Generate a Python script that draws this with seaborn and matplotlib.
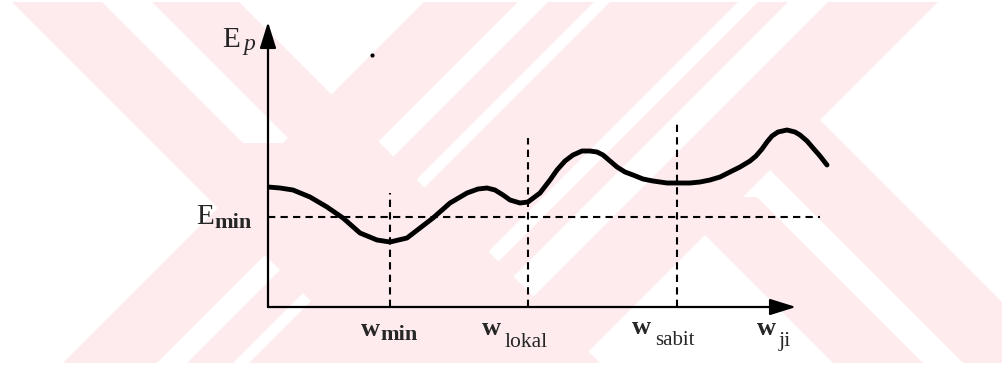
import matplotlib
matplotlib.use("Agg")
import matplotlib.pyplot as plt
import seaborn as sns
from matplotlib.patches import Polygon

# curve (x to the right of the E axis, y above the w axis, in px)
curve_x = [0, 12, 25, 42, 59, 75, 92, 109, 122, 139, 152, 165, 182, 199, 210, 219, 227,
           235, 242, 252, 260, 272, 282, 289, 297, 305, 314, 322, 329, 335, 342, 349, 357,
           365, 375, 385, 399, 412, 422, 432, 442, 452, 462, 472, 482, 488, 494, 499, 504,
           510, 519, 527, 532, 539, 545, 552, 559]
curve_y = [120, 119, 117, 110, 100, 89, 74, 67, 65, 69, 79, 89, 104, 114, 118, 119, 117,
           112, 107, 104, 105, 114, 127, 137, 146, 152, 156, 156, 155, 152, 146, 140, 135,
           132, 128, 126, 124, 124, 124, 125, 127, 130, 135, 140, 146, 151, 158, 165, 171,
           175, 177, 175, 172, 166, 159, 151, 142]

emin_level = 90.5
emin_end = 552
w_pos = [122, 260, 409]
w_top = [114, 169, 187]
sub_labels = ['min', 'lokal', 'sabit', 'ji']

W, H = 1003, 368
sns.set_style('white')
plt.rcParams['font.family'] = ['Liberation Serif', 'DejaVu Serif']

fig = plt.figure(figsize=(W / 100, H / 100), dpi=100)

# faint pink watermark in the background
pink = '#fdebee'
def band(kind, a, b, y0, y1):
    if kind == 'back':   # "\" direction, x - y in [a, b]
        pts = [(a + y0, y0), (b + y0, y0), (b + y1, y1), (a + y1, y1)]
    else:                # "/" direction, x + y in [a, b]
        pts = [(a - y0, y0), (b - y0, y0), (b - y1, y1), (a - y1, y1)]
    return Polygon([(px / W, 1 - py / H) for px, py in pts], closed=True,
                   transform=fig.transFigure, facecolor=pink, edgecolor='none', zorder=0)

top, bot = 2, 363
for kind, a, b, y0, y1 in [('back', 10, 100, top, bot), ('back', 150, 237, top, bot),
                           ('back', 100, 150, 143, bot),
                           ('fwd', 426, 520, top, bot), ('fwd', 550, 596, top, bot),
                           ('fwd', 612, 740, top, bot), ('fwd', 760, 790, top, bot),
                           ('fwd', 830, 940, top, bot),
                           ('back', 470, 560, 197, bot), ('back', 600, 700, 120, bot)]:
    fig.add_artist(band(kind, a, b, y0, y1))

ox, oy = 268, 307   # pixel position of the origin
ax = fig.add_axes([ox / W, (H - oy) / H, 562 / W, 285 / H])
ax.set_xlim(0, 562)
ax.set_ylim(0, 285)
ax.set_axis_off()

# axes with arrow heads
arrow = dict(arrowstyle='-|>,head_length=0.8,head_width=0.25', lw=1.6, color='black',
             mutation_scale=20, shrinkA=0, shrinkB=0)
ax.annotate('', xy=(0, 285), xytext=(0, 0), arrowprops=arrow, annotation_clip=False)
ax.annotate('', xy=(528, 0), xytext=(0, 0), arrowprops=arrow, annotation_clip=False)

sns.lineplot(x=curve_x, y=curve_y, color='black', lw=3.5, ax=ax)

dash = (0, (3.5, 2.5))
ax.hlines(emin_level, 0, emin_end, colors='black', lw=1.5, linestyles=[dash])
ax.vlines(w_pos, 0, w_top, colors='black', lw=1.5, linestyles=[dash])
ax.scatter([104], [252], s=4, color='black')

def label(main, sub, main_xy, sub_xy, size, sub_size, bold_main=False, bold_sub=False,
          sub_style='normal'):
    ax.text(main_xy[0] - ox, oy - main_xy[1], main, fontsize=size, ha='left', va='baseline',
            fontweight='bold' if bold_main else 'normal', clip_on=False)
    ax.text(sub_xy[0] - ox, oy - sub_xy[1], sub, fontsize=sub_size, ha='left', va='baseline',
            fontweight='bold' if bold_sub else 'normal', style=sub_style, clip_on=False)

label('E', 'p', (222, 47), (243, 50), 21, 17, sub_style='italic')
label('E', 'min', (196, 224), (214, 228), 21, 16, bold_sub=True)
w_layout = [((361, 336), (380, 340)), ((482, 335), (505, 347)),
            ((632, 334), (655, 345)), ((757, 335), (779, 346))]
sub_sizes = [16, 15.5, 15, 16]
for sub, (mxy, sxy), ss in zip(sub_labels, w_layout, sub_sizes):
    label('w', sub, mxy, sxy, 19, ss, bold_main=True, bold_sub=(sub == 'min'))

fig.savefig('out.png', dpi=100)
